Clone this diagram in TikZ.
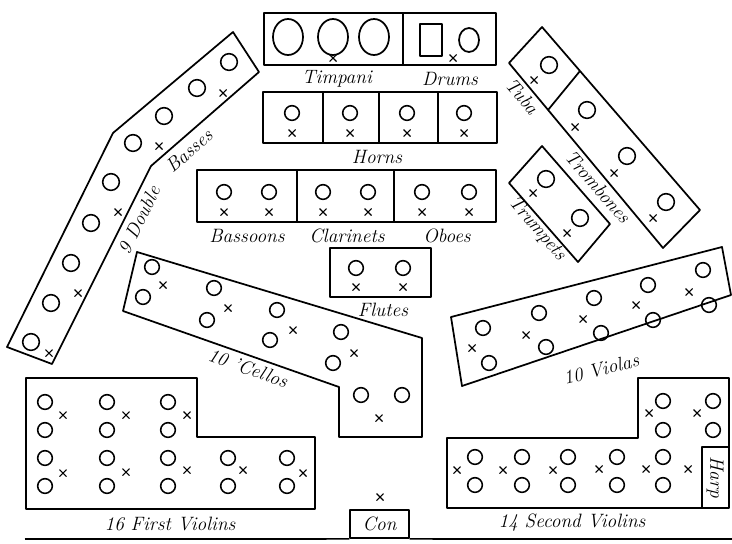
\documentclass[tikz,border=0pt]{standalone}
\usepackage{tikz}
\usetikzlibrary{positioning}
\tikzset{
  pen/.style={line width=1.3pt, line join=round},
  seat/.style={circle, draw, line width=1.15pt, inner sep=0pt, minimum size=11pt},
  lbl/.style={font=\fontsize{14.5}{16}\selectfont\itshape, inner sep=1pt},
  xmark/.pic={\draw[line width=0.8pt] (-3.5,-3.5) -- (3.5,3.5) (-3.5,3.5) -- (3.5,-3.5);},
}

\begin{document}
\begin{tikzpicture}[x=0.75pt, y=-0.75pt]
  \useasboundingbox (0,0) rectangle (732,543);
  % --- timpani and drums
  \draw[pen] (264,13) rectangle (496,65) (403,13) -- (403,65);
  \foreach \x in {288,333,374}{\draw[pen] (\x,37) ellipse (15 and 18);}
  \draw[pen] (420,24) rectangle (442,56);
  \draw[pen] (469,40) ellipse (10 and 12);
  \pic at (333,58) {xmark};
  \pic at (453,58) {xmark};
  \node[lbl] (timpani) at (337,79) {Timpani};
  \node[lbl] (drums) at (450,79) {Drums};
  % --- horns
  \draw[pen] (263,92) rectangle (497,143);
  \foreach \x in {323,379,438}{\draw[pen] (\x,92) -- (\x,143);}
  \foreach \x [count=\i] in {292,350,407,464}{
    \node[seat] (hn\i) at (\x,113) {}; \pic at (\x,133) {xmark};}
  \node[lbl] (horns) at (377,157) {Horns};
  % --- bassoons, clarinets, oboes
  \draw[pen] (197,170) rectangle (496,222) (297,170) -- (297,222) (394,170) -- (394,222);
  \foreach \x [count=\i] in {224,269,323,368,422,469}{
    \node[seat] (ww\i) at (\x,192) {}; \pic at (\x,212) {xmark};}
  \node[lbl] (bassoons) at (247,236) {Bassoons};
  \node[lbl] (clarinets) at (347,236) {Clarinets};
  \node[lbl] (oboes) at (447,236) {Oboes};
  % --- flutes
  \draw[pen] (330,248) rectangle (431,297);
  \foreach \x [count=\i] in {356,403}{
    \node[seat] (fl\i) at (\x,268) {}; \pic at (\x,287) {xmark};}
  \node[lbl] (flutes) at (383,310) {Flutes};
  % --- double basses
  \draw[pen] (7,347) -- (113,133) -- (233,32) -- (259,72) -- (151,166) -- (52,364) -- cycle;
  \foreach \p [count=\i] in {(229,62),(197,88),(164,116),(133,143),(111,182),
                             (91,223),(71,263),(51,303),(31,342)}{
    \node[seat, minimum size=12.5pt] (db\i) at \p {};}
  \foreach \p in {(223,93),(159,146),(118,212),(78,293),(49,353)}{\pic at \p {xmark};}
  \node[lbl, rotate=64] (double) at (139,220) {9 Double};
  \node[lbl, rotate=41] (basses) at (189,151) {Basses};
  % --- tuba and trombones
  \draw[pen] (542,27) -- (700,210) -- (663,248) -- (509,63) -- cycle;
  \draw[pen] (580,71) -- (548,110);
  \foreach \p [count=\i] in {(549,65),(587,110),(627,156),(666,202)}{
    \node[seat, minimum size=12.5pt] (tb\i) at \p {};}
  \foreach \p in {(534,80),(575,127),(614,173),(653,218)}{\pic at \p {xmark};}
  \node[lbl, rotate=-49] (tuba) at (522,96) {Tuba};
  \node[lbl, rotate=-49] (trombones) at (598,187) {Trombones};
  % --- trumpets
  \draw[pen] (542,146) -- (610,224) -- (578,262) -- (509,183) -- cycle;
  \foreach \p [count=\i] in {(546,179),(580,218)}{
    \node[seat, minimum size=12.5pt] (tp\i) at \p {};}
  \foreach \p in {(533,193),(567,233)}{\pic at \p {xmark};}
  \node[lbl, rotate=-49] (trumpets) at (537,229) {Trumpets};
  % --- cellos
  \draw[pen] (137,252) -- (422,338) -- (422,437) -- (339,437) -- (339,387) -- (123,311) -- cycle;
  \foreach \p [count=\i] in {(152,267),(143,297),(214,288),(207,320),(277,310),
                             (270,340),(341,332),(333,363),(361,395),(402,395)}{
    \node[seat] (vc\i) at \p {};}
  \foreach \p in {(163,285),(228,308),(293,330),(354,353),(379,418)}{\pic at \p {xmark};}
  \node[lbl, rotate=-19] (cellos) at (248,368) {10 'Cellos};
  % --- violas
  \draw[pen] (451,317) -- (722,247) -- (731,295) -- (462,386) -- cycle;
  \foreach \p [count=\i] in {(483,328),(489,363),(539,313),(546,347),(594,298),
                             (601,333),(648,285),(653,320),(703,270),(709,305)}{
    \node[seat] (va\i) at \p {};}
  \foreach \p in {(472,348),(526,335),(583,319),(636,305),(689,292)}{\pic at \p {xmark};}
  \node[lbl, rotate=14] (violas) at (601,369) {10 Violas};
  % --- first violins
  \draw[pen] (26,378) -- (197,378) -- (197,437) -- (315,437) -- (315,509) -- (26,509) -- cycle;
  \foreach \x in {45,107,168}{\foreach \y in {402,430}{\node[seat] at (\x,\y) {};}}
  \foreach \x in {45,107,168,228,287}{\foreach \y in {458,486}{\node[seat] at (\x,\y) {};}}
  \foreach \p in {(63,415),(126,415),(187,415),(63,473),(126,472),(187,470),
                  (243,470),(303,473)}{\pic at \p {xmark};}
  \node[lbl] (firstvl) at (170,524) {16 First Violins};
  % --- second violins and harp
  \draw[pen] (447,438) -- (638,438) -- (638,378) -- (729,378) -- (729,508) -- (447,508) -- cycle;
  \draw[pen] (702,508) -- (702,447) -- (729,447);
  \foreach \x in {475,522,568,617,663}{\foreach \y in {457,485}{\node[seat] at (\x,\y) {};}}
  \foreach \x in {663,713}{\foreach \y in {401,430}{\node[seat] at (\x,\y) {};}}
  \foreach \p in {(457,470),(503,470),(553,470),(599,469),(646,469),(688,469),
                  (649,413),(697,413)}{\pic at \p {xmark};}
  \node[lbl, rotate=-90] (harp) at (715,477) {Harp};
  \node[lbl] (secondvl) at (572,523) {14 Second Violins};
  % --- conductor
  \node[draw, pen, lbl, minimum width=44pt, minimum height=21pt] (con) at (379.5,524) {Con};
  \pic at (380,497) {xmark};
  \draw[pen] (25,539) -- (con.south west);
  \draw[pen] (con.south east) -- (732,539);
\end{tikzpicture}
\end{document}
